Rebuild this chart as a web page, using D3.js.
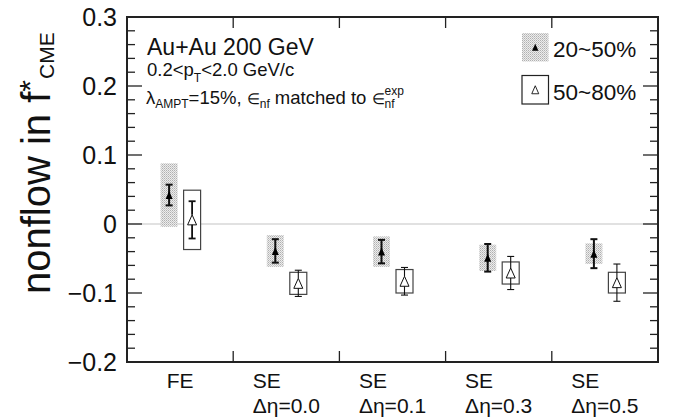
<!DOCTYPE html>
<html>
<head>
<meta charset="utf-8">
<script src="https://cdn.jsdelivr.net/npm/d3@7"></script>
<style>
  body { margin: 0; background: #fff; }
  svg { font-family: "Liberation Sans", Arial, Helvetica, sans-serif; }
</style>
</head>
<body>
<svg width="678" height="419"></svg>
<script>
'use strict';
// ..........data..........
const categories = ['FE', 'SE0', 'SE1', 'SE3', 'SE5'];
const labelTop = ['FE', 'SE', 'SE', 'SE', 'SE'];
const labelBottom = ['', 'Δη=0.0', 'Δη=0.1', 'Δη=0.3', 'Δη=0.5'];
const seriesNames = ['20~50%', '50~80%'];
// 20~50%
const val1 = [0.042, -0.039, -0.040, -0.049, -0.043];
const stat1 = [0.015, 0.017, 0.017, 0.020, 0.021];
const sys1 = [0.046, 0.023, 0.022, 0.019, 0.015];
// 50~80%
const val2 = [0.006, -0.086, -0.083, -0.071, -0.085];
const stat2 = [0.027, 0.019, 0.020, 0.024, 0.027];
const sys2 = [0.043, 0.016, 0.017, 0.016, 0.015];
const yTicks = [-0.2, -0.1, 0, 0.1, 0.2, 0.3];

// ..........layout..........
const svg = d3.select('svg');
const frame = { left: 127, top: 17, right: 658, bottom: 362 };
const x = d3.scaleBand().domain(categories).range([frame.left, frame.right]).padding(0);
const y = d3.scaleLinear().domain([-0.2, 0.3]).range([frame.bottom, frame.top]);
const cx = c => x(c) + x.bandwidth() / 2;
const off1 = -11, off2 = 12, boxHalf = 8.5;

// stipple pattern for 20~50% sys boxes
const defs = svg.append('defs');
const pat = defs.append('pattern')
    .attr('id', 'stip').attr('width', 2).attr('height', 2)
    .attr('patternUnits', 'userSpaceOnUse');
pat.append('rect').attr('width', 2).attr('height', 2).attr('fill', '#ececec');
pat.append('rect').attr('width', 1).attr('height', 1).attr('fill', '#b0b0b0');
pat.append('rect').attr('x', 1).attr('y', 1).attr('width', 1).attr('height', 1).attr('fill', '#c8c8c8');

function tri(w, h) {
  return `M0,${-h}L${w},${h}L${-w},${h}Z`;
}

// zero line
svg.append('line')
    .attr('x1', frame.left).attr('x2', frame.right)
    .attr('y1', y(0)).attr('y2', y(0))
    .attr('stroke', '#c4c4c4').attr('stroke-width', 1.2);

// ..........series 1 (20~50%)..........
const g1 = svg.append('g');
categories.forEach((c, i) => {
  const px = cx(c) + off1;
  g1.append('rect')
      .attr('x', px - boxHalf).attr('width', boxHalf * 2)
      .attr('y', y(val1[i] + sys1[i])).attr('height', y(val1[i] - sys1[i]) - y(val1[i] + sys1[i]))
      .attr('fill', 'url(#stip)');
  const top = y(val1[i] + stat1[i]), bot = y(val1[i] - stat1[i]);
  g1.append('line').attr('x1', px).attr('x2', px).attr('y1', top).attr('y2', bot)
      .attr('stroke', '#111').attr('stroke-width', 2);
  [top, bot].forEach(v => g1.append('line')
      .attr('x1', px - 3.5).attr('x2', px + 3.5).attr('y1', v).attr('y2', v)
      .attr('stroke', '#111').attr('stroke-width', 2));
  g1.append('path').attr('d', tri(3.5, 4))
      .attr('transform', `translate(${px},${y(val1[i])})`)
      .attr('fill', '#000');
});

// ..........series 2 (50~80%)..........
const g2 = svg.append('g');
categories.forEach((c, i) => {
  const px = cx(c) + off2;
  const py = y(val2[i]);
  g2.append('rect')
      .attr('x', px - boxHalf).attr('width', boxHalf * 2)
      .attr('y', y(val2[i] + sys2[i])).attr('height', y(val2[i] - sys2[i]) - y(val2[i] + sys2[i]))
      .attr('fill', '#fff').attr('stroke', '#444').attr('stroke-width', 1.2);
  const top = y(val2[i] + stat2[i]), bot = y(val2[i] - stat2[i]);
  const sw = i === 0 ? 1.8 : 1.1;
  g2.append('line').attr('x1', px).attr('x2', px).attr('y1', top).attr('y2', py - 5)
      .attr('stroke', '#111').attr('stroke-width', sw);
  g2.append('line').attr('x1', px).attr('x2', px).attr('y1', py + 5).attr('y2', bot)
      .attr('stroke', '#111').attr('stroke-width', sw);
  [top, bot].forEach(v => g2.append('line')
      .attr('x1', px - 3.5).attr('x2', px + 3.5).attr('y1', v).attr('y2', v)
      .attr('stroke', '#111').attr('stroke-width', sw));
  g2.append('path').attr('d', tri(4.5, 5))
      .attr('transform', `translate(${px},${py})`)
      .attr('fill', 'none').attr('stroke', '#111').attr('stroke-width', 1);
});

// ..........frame and ticks..........
svg.append('rect')
    .attr('x', frame.left).attr('y', frame.top)
    .attr('width', frame.right - frame.left).attr('height', frame.bottom - frame.top)
    .attr('fill', 'none').attr('stroke', '#222').attr('stroke-width', 2);

const minor = d3.range(-0.2, 0.3001, 0.02);
const tickG = svg.append('g').attr('stroke', '#222').attr('stroke-width', 1.3);
minor.forEach(v => {
  const major = Math.abs(Math.round(v * 10) - v * 10) < 1e-6;
  const len = major ? 15 : 8;
  tickG.append('line').attr('x1', frame.left).attr('x2', frame.left + len)
      .attr('y1', y(v)).attr('y2', y(v));
  tickG.append('line').attr('x1', frame.right).attr('x2', frame.right - len)
      .attr('y1', y(v)).attr('y2', y(v));
});
categories.slice(1).forEach(c => {
  tickG.append('line').attr('x1', x(c)).attr('x2', x(c))
      .attr('y1', frame.bottom).attr('y2', frame.bottom - 11);
  tickG.append('line').attr('x1', x(c)).attr('x2', x(c))
      .attr('y1', frame.top).attr('y2', frame.top + 11);
});

// y tick labels
svg.append('g').selectAll('text').data(yTicks).join('text')
    .attr('x', frame.left - 10).attr('y', d => y(d) + 9)
    .attr('text-anchor', 'end').attr('font-size', 25).attr('fill', '#111')
    .text(d => d === 0 ? '0' : d3.format('.1f')(d).replace('-', '\u2212'));

// x labels
const xl = svg.append('g').attr('font-size', 21).attr('fill', '#111');
categories.forEach((c, i) => {
  if (labelBottom[i] === '') {
    xl.append('text').attr('x', cx(c)).attr('y', 388).attr('text-anchor', 'middle').text(labelTop[i]);
  } else {
    const b = xl.append('text').attr('x', cx(c)).attr('y', 413).attr('text-anchor', 'middle').text(labelBottom[i]);
    const w = b.node().getComputedTextLength();
    xl.append('text').attr('x', cx(c) - w / 2).attr('y', 388).text(labelTop[i]);
  }
});

// y title
const yt = svg.append('text')
    .attr('transform', 'translate(50,294) rotate(-90)')
    .attr('font-size', 40).attr('fill', '#111');
yt.append('tspan').text('nonflow in f');
yt.append('tspan').attr('font-size', 30).attr('dy', -10).text('*');
yt.append('tspan').attr('font-size', 21).attr('dx', 1).attr('dy', 14).text('CME');

// ..........annotations..........
const ann = svg.append('g').attr('fill', '#111');
ann.append('text').attr('x', 147).attr('y', 55).attr('font-size', 23).text('Au+Au 200 GeV');
const t2 = ann.append('text').attr('x', 147).attr('y', 76).attr('font-size', 18.5);
t2.append('tspan').text('0.2<p');
t2.append('tspan').attr('font-size', 12).attr('dy', 6).text('T');
t2.append('tspan').attr('dy', -6).text('<2.0 GeV/c');
const t3 = ann.append('text').attr('x', 146).attr('y', 104).attr('font-size', 18.5);
t3.append('tspan').text('λ');
t3.append('tspan').attr('font-size', 12).attr('dy', 4).text('AMPT');
t3.append('tspan').attr('dy', -4).text('=15%, ');
t3.append('tspan').attr('font-size', 15).text('∈');
t3.append('tspan').attr('font-size', 12).attr('dy', 4).text('nf');
t3.append('tspan').attr('dy', -4).text(' matched to ');
t3.append('tspan').attr('font-size', 15).text('∈');
const t3end = t3.node().getComputedTextLength();
t3.append('tspan').attr('font-size', 12).attr('dy', -9).text('exp');
t3.append('tspan').attr('font-size', 12).attr('x', 146 + t3end).attr('dy', 13).text('nf');

// ..........legend..........
const leg = svg.append('g');
const lx = 522, lw = 26.5, lh = 28.5;
const ly = [33, 75.5];
leg.append('rect').attr('x', lx).attr('y', ly[0]).attr('width', lw).attr('height', lh).attr('fill', 'url(#stip)');
leg.append('path').attr('d', tri(3.2, 3.6)).attr('transform', `translate(${lx + lw / 2},${ly[0] + lh / 2})`).attr('fill', '#000');
leg.append('rect').attr('x', lx).attr('y', ly[1]).attr('width', lw).attr('height', lh)
    .attr('fill', 'none').attr('stroke', '#222').attr('stroke-width', 1.2);
leg.append('path').attr('d', tri(3.5, 4)).attr('transform', `translate(${lx + lw / 2},${ly[1] + lh / 2})`)
    .attr('fill', 'none').attr('stroke', '#111').attr('stroke-width', 0.9);
seriesNames.forEach((s, i) => {
  leg.append('text').attr('x', 553).attr('y', ly[i] + 24).attr('font-size', 22.5).attr('fill', '#111').text(s);
});
</script>
</body>
</html>
